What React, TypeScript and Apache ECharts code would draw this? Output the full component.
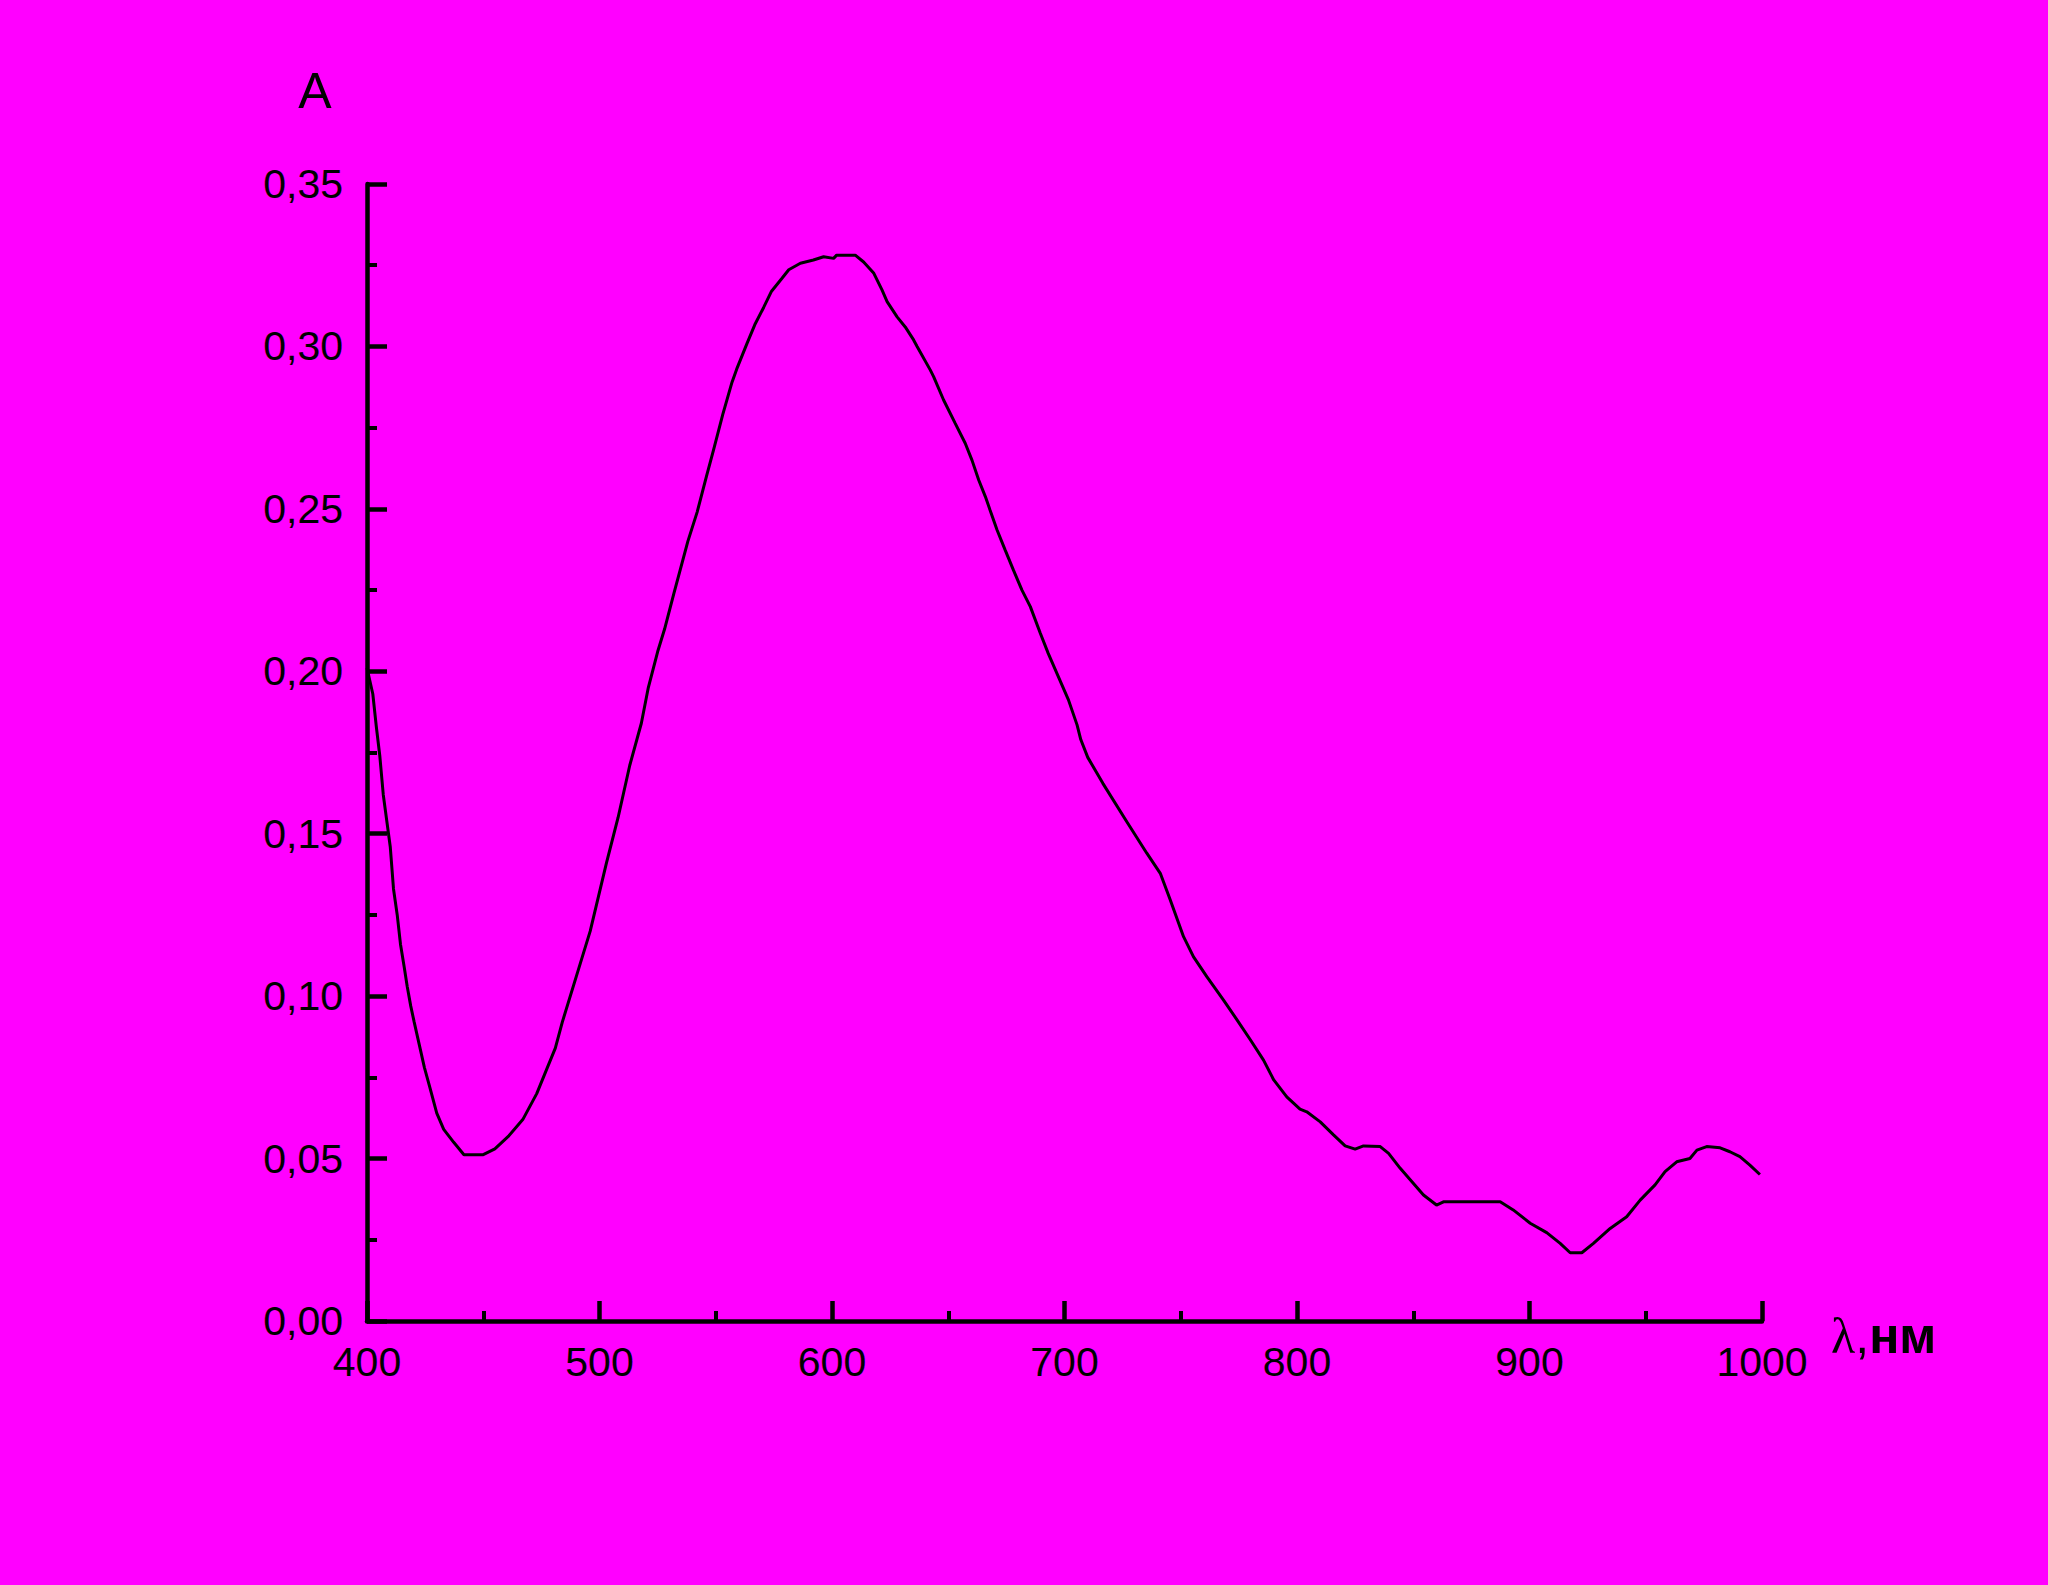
import React, { useEffect, useRef } from "react";
import * as echarts from "echarts";

const wavelength = [
  400, 402.5, 404, 405.5, 407, 408.5, 410, 411.4, 413, 414.4, 416, 417.3, 418.8, 420.3, 422.5, 424.7, 427, 430, 433, 437.3,
  441.7, 450, 455, 461, 467, 473, 477, 481, 484, 490, 496, 503, 508, 513, 518, 521, 525, 528, 532, 538,
  542, 546, 549, 553, 557, 559, 563.5, 567, 570.6, 574, 578.5, 581.4, 586.4, 592, 596.4, 600.7, 602, 610, 613.6, 618,
  621.5, 623.7, 628, 631.5, 635.1, 636.6, 642.3, 643.7, 648, 653, 657.3, 660.2, 663.1, 666, 668, 671, 674.5, 678, 681.7, 685.3,
  689.6, 693, 698, 701.7, 705.4, 707, 710, 716.5, 726.8, 735.4, 741.2, 745.5, 751.2, 755.5, 761.2, 768.4, 774.2, 780, 785.6, 790,
  795.6, 801.3, 804.2, 810, 815.7, 820.7, 825, 828.6, 835.8, 839.4, 844.4, 850, 854.4, 860, 863, 887.4, 893, 900.3, 907.4, 913.2,
  917.5, 922.5, 927.5, 934.7, 941.8, 947.6, 954, 958.3, 963.3, 969, 972, 976.2, 982, 986.2, 990.5, 994.8, 999.1,
];

const absorbance = [
  0.201, 0.193, 0.183, 0.174, 0.162, 0.154, 0.146, 0.133, 0.125, 0.116, 0.109, 0.103, 0.097, 0.092, 0.085, 0.078, 0.072, 0.064, 0.059, 0.055,
  0.0512, 0.0512, 0.053, 0.057, 0.062, 0.07, 0.077, 0.084, 0.092, 0.106, 0.12, 0.141, 0.155, 0.171, 0.184, 0.195, 0.206, 0.213, 0.224, 0.24,
  0.249, 0.26, 0.268, 0.279, 0.289, 0.293, 0.301, 0.307, 0.312, 0.317, 0.321, 0.3236, 0.3256, 0.3266, 0.3276, 0.3271, 0.3281, 0.3281, 0.326, 0.3225,
  0.3174, 0.3138, 0.3091, 0.306, 0.302, 0.3, 0.2927, 0.2907, 0.2835, 0.2763, 0.2702, 0.265, 0.2589, 0.2537, 0.2496, 0.2435, 0.2373, 0.2312, 0.225, 0.2199,
  0.2117, 0.2055, 0.1973, 0.1912, 0.1835, 0.179, 0.1735, 0.1655, 0.1537, 0.144, 0.1378, 0.1296, 0.1183, 0.1121, 0.106, 0.0988, 0.0927, 0.0865, 0.0803, 0.0742,
  0.069, 0.0652, 0.0644, 0.0613, 0.0573, 0.0539, 0.0529, 0.0539, 0.0537, 0.0516, 0.047, 0.0424, 0.0388, 0.0357, 0.0367, 0.0367, 0.0342, 0.0301, 0.0272, 0.0239,
  0.021, 0.021, 0.0239, 0.0285, 0.0321, 0.0372, 0.0419, 0.046, 0.049, 0.05, 0.0526, 0.0537, 0.0533, 0.0521, 0.0506, 0.048, 0.0451,
];

const yAxisTitle = "A";
const xAxisTitleSymbol = "λ";
const xAxisTitleUnit = "нм";

export default function App() {
  const ref = useRef<HTMLDivElement>(null);

  useEffect(() => {
    if (!ref.current) return;
    document.body.style.margin = "0";
    document.body.style.background = "#FF00FF";
    const chart = echarts.init(ref.current, null, { renderer: "svg" });
    const data = wavelength.map((x, i) => [x, absorbance[i]]);
    chart.setOption({
      animation: false,
      backgroundColor: "#FF00FF",
      grid: { left: 367, top: 184, width: 1395, height: 1137, containLabel: false },
      xAxis: {
        type: "value",
        min: 400,
        max: 1000,
        interval: 100,
        axisLine: { show: true, onZero: false, lineStyle: { color: "#000", width: 4.5 } },
        axisTick: { show: true, inside: true, length: 20, lineStyle: { color: "#000", width: 4.5 } },
        minorTick: { show: true, splitNumber: 2, length: 10, lineStyle: { color: "#000", width: 4 } },
        splitLine: { show: false },
        axisLabel: {
          color: "#000",
          fontFamily: "Liberation Sans",
          fontSize: 41,
          margin: 20,
          showMinLabel: true,
          showMaxLabel: true,
          formatter: (v: number) => String(v),
        },
      },
      yAxis: {
        type: "value",
        min: 0,
        max: 0.35,
        interval: 0.05,
        axisLine: { show: true, onZero: false, lineStyle: { color: "#000", width: 4.5 } },
        axisTick: { show: true, inside: true, length: 20, lineStyle: { color: "#000", width: 4.5 } },
        minorTick: { show: true, splitNumber: 2, length: 10, lineStyle: { color: "#000", width: 4 } },
        splitLine: { show: false },
        axisLabel: {
          color: "#000",
          fontFamily: "Liberation Sans",
          fontSize: 41,
          margin: 24,
          padding: [0, 0, 8, 0],
          formatter: (v: number) => v.toFixed(2).replace(".", ","),
        },
      },
      graphic: [
        {
          type: "text",
          x: 315,
          y: 91,
          style: {
            text: yAxisTitle,
            fill: "#000",
            fontFamily: "Liberation Sans",
            fontSize: 50,
            align: "center",
            verticalAlign: "middle",
          },
        },
        {
          type: "text",
          x: 1831,
          y: 1336,
          style: {
            text: "{l|" + xAxisTitleSymbol + "}{c|,}{b|" + xAxisTitleUnit + "}",
            fill: "#000",
            align: "left",
            verticalAlign: "middle",
            rich: {
              l: { fontFamily: "Liberation Serif", fontSize: 50, fill: "#000" },
              c: { fontFamily: "Liberation Sans", fontSize: 50, fill: "#000" },
              b: { fontFamily: "Liberation Sans", fontSize: 50, fontWeight: "bold", fill: "#000" },
            },
          },
        },
      ],
      series: [
        {
          type: "line",
          data,
          showSymbol: false,
          symbol: "none",
          smooth: false,
          lineStyle: { color: "#000", width: 3 },
          itemStyle: { color: "#000" },
        },
      ],
    });
    return () => chart.dispose();
  }, []);

  return (
    <div
      ref={ref}
      style={{ position: "absolute", left: 0, top: 0, width: 2048, height: 1585, background: "#FF00FF" }}
    />
  );
}
